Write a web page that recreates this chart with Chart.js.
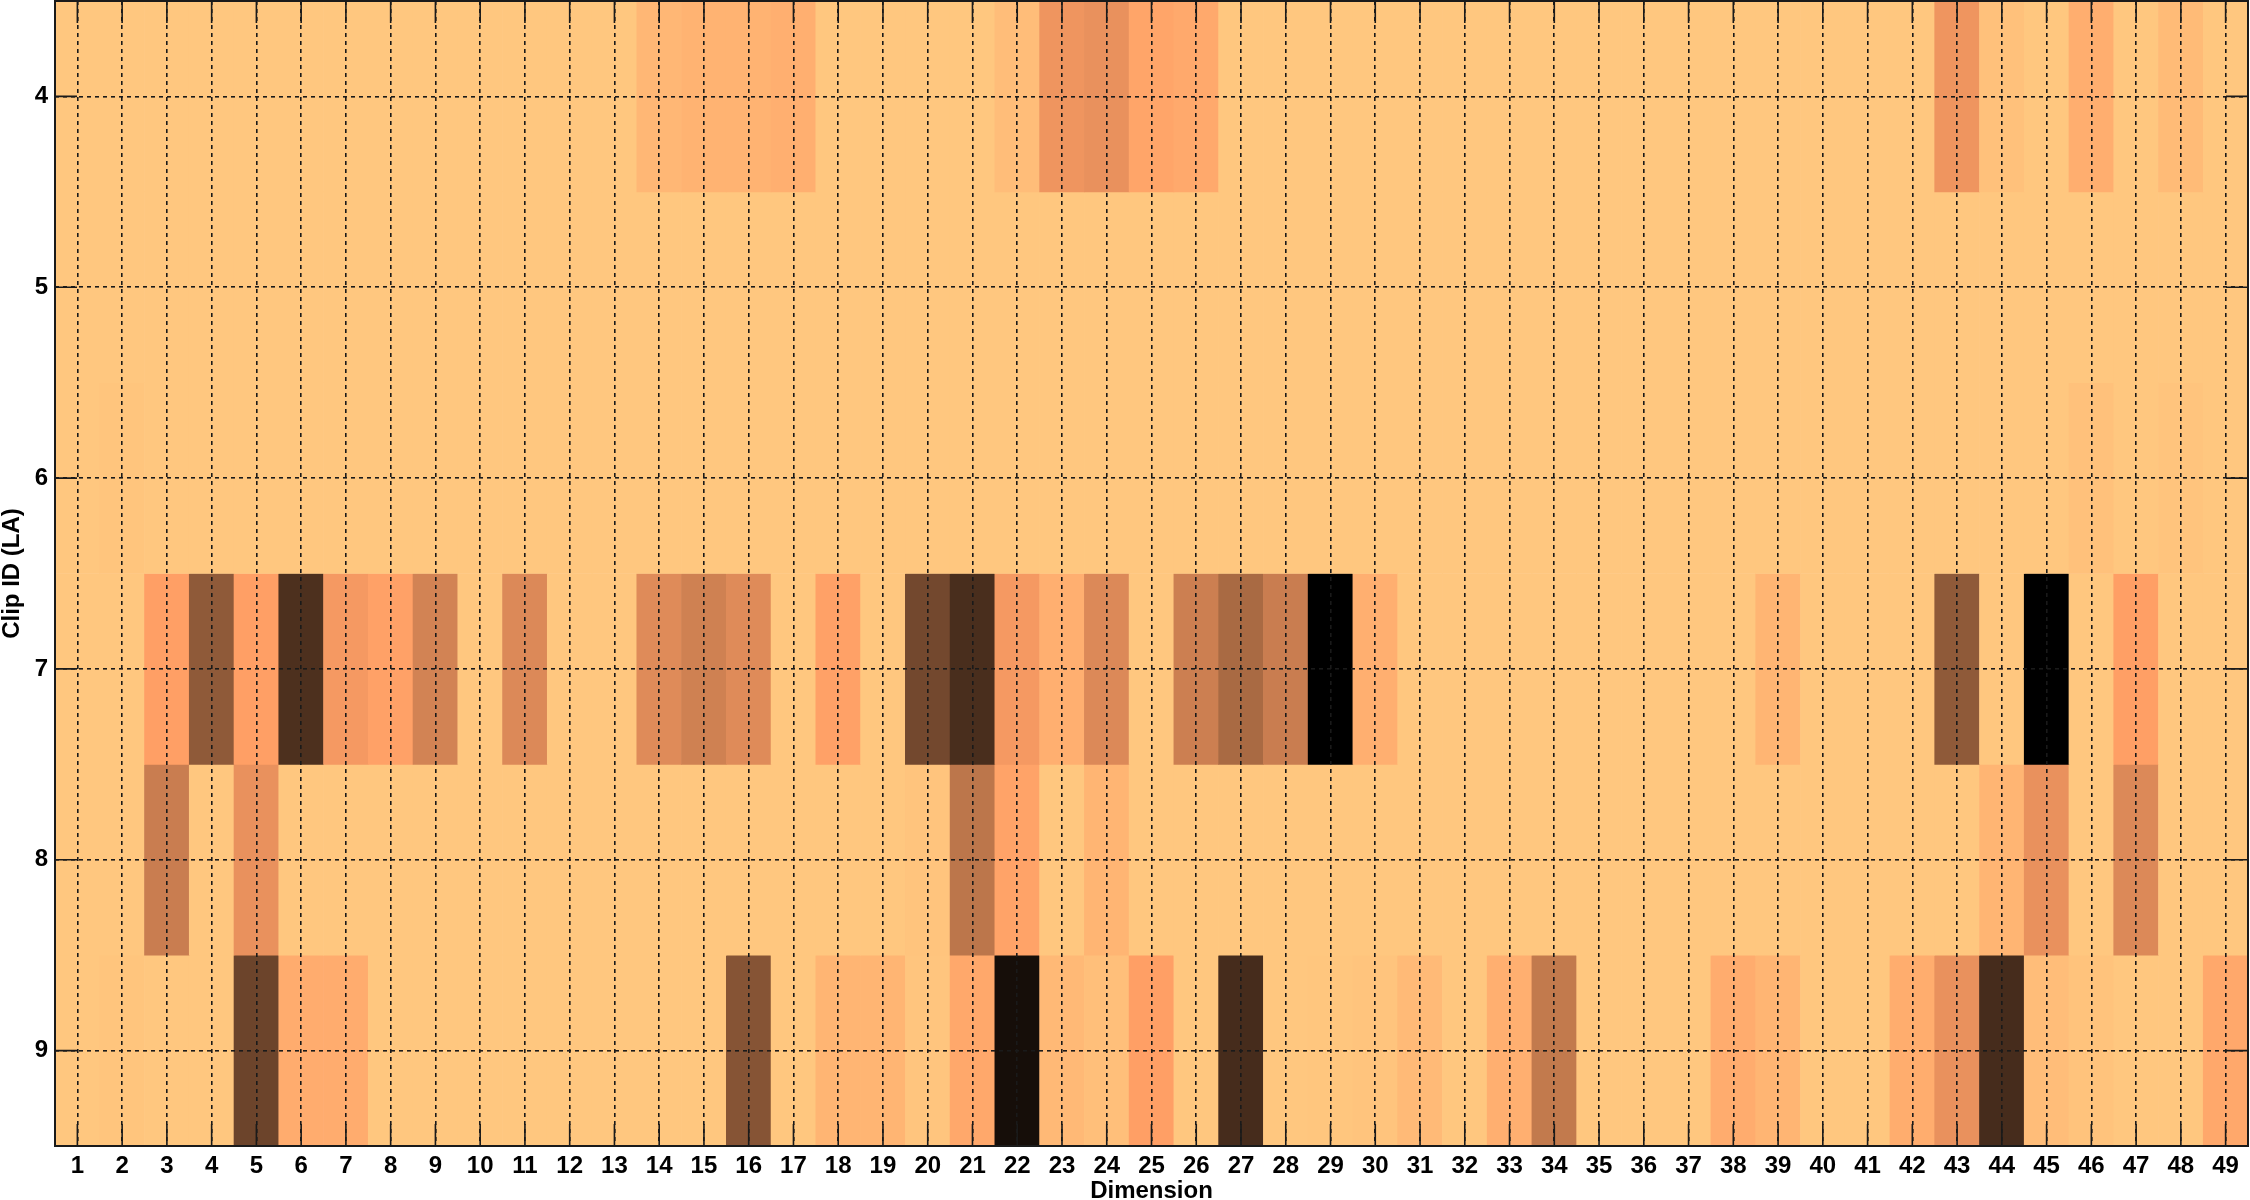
<!DOCTYPE html>
<html>
<head>
<meta charset="utf-8">
<script src="https://cdn.jsdelivr.net/npm/chart.js@4.4.1/dist/chart.umd.min.js"></script>
<style>
  html, body { margin: 0; padding: 0; background: #fff; }
  #wrap { width: 2250px; height: 1200px; position: relative; }
</style>
</head>
<body>
<div id="wrap"><canvas id="heat"></canvas></div>
<script>
'use strict';

/* ── Data ─────────────────────────────────────────────────────────────── */
const dimensions = ['1','2','3','4','5','6','7','8','9','10','11','12','13','14','15','16','17',
  '18','19','20','21','22','23','24','25','26','27','28','29','30','31','32','33','34','35',
  '36','37','38','39','40','41','42','43','44','45','46','47','48','49'];
const clipIds = [4, 5, 6, 7, 8, 9];

// intensity per dimension, 0 = lightest, 1 = black
const clip4 = [0,0,0,0,0,0,0,0,0,0, 0,0,0,0.08,0.10,0.10,0.12,0,0,0,
  0,0.05,0.25,0.27,0.17,0.15,0,0,0,0, 0,0,0,0,0,0,0,0,0,0,
  0,0,0.25,0.03,0,0.125,0,0.06,0];
const clip5 = [0,0,0,0,0,0,0,0,0,0, 0,0,0,0,0,0,0,0,0,0,
  0,0,0,0,0,0,0,0,0,0, 0,0,0,0,0,0,0,0,0,0,
  0,0,0,0,0,0,0,0,0];
const clip6 = [0,0.012,0,0,0,0,0,0,0,0, 0,0,0,0,0,0,0,0,0,0,
  0,0,0,0,0,0,0,0,0,0, 0,0,0,0,0,0,0,0,0,0,
  0,0,0,0,0,0.03,0,0.015,0];
const clip7 = [0,0,0.20,0.55,0.20,0.76,0.23,0.19,0.34,0, 0.31,0,0,0.30,0.35,0.30,0,0.19,0,0.64,
  0.77,0.23,0.12,0.31,0,0.36,0.47,0.37,1.0,0.12, 0,0,0,0,0,0,0,0,0.09,0,
  0,0,0.55,0,1.0,0,0.20,0,0];
const clip8 = [0,0,0.37,0,0.27,0,0,0,0,0, 0,0,0,0,0,0,0,0,0,0.015,
  0.41,0.18,0,0.09,0,0,0,0,0,0, 0,0,0,0,0,0,0,0,0,0,
  0,0,0,0.09,0.27,0,0.31,0,0];
const clip9 = [0,0.012,0,0,0.66,0.135,0.135,0,0,0, 0,0,0,0,0,0.58,0,0.09,0.09,0.01,
  0.155,0.93,0.07,0.04,0.20,0,0.78,0,0.008,0.015, 0.065,0,0.12,0.39,0,0,0,0.135,0.09,0,
  0,0.13,0.27,0.78,0.05,0.02,0,0,0.155];

const yTicks = [4, 5, 6, 7, 8, 9];

/* ── Helpers ──────────────────────────────────────────────────────────── */
// reversed copper colormap: 0 -> light peach, 1 -> black
function copperRev(v) {
  const t = 1 - v;
  const r = Math.min(1, 1.25 * t), g = 0.7812 * t, b = 0.4975 * t;
  return `rgb(${Math.round(r * 255)},${Math.round(g * 255)},${Math.round(b * 255)})`;
}

const FONT = { family: '"Liberation Sans", Arial, sans-serif', size: 24, weight: 'bold' };
const INK = '#1a1a1a';
const TICK_LEN = 22;

// axes box + inward tick marks like the original figure
const boxTicks = {
  id: 'boxTicks',
  afterDraw(chart) {
    const { ctx, chartArea: a, scales } = chart;
    ctx.save();
    ctx.strokeStyle = INK;
    ctx.lineWidth = 1.6;
    ctx.setLineDash([]);
    ctx.beginPath();
    scales.x.ticks.forEach((t, i) => {
      const px = scales.x.getPixelForTick(i);
      ctx.moveTo(px, a.top); ctx.lineTo(px, a.top + TICK_LEN);
      ctx.moveTo(px, a.bottom); ctx.lineTo(px, a.bottom - TICK_LEN);
    });
    scales.y.ticks.forEach((t, i) => {
      const py = scales.y.getPixelForTick(i);
      ctx.moveTo(a.left, py); ctx.lineTo(a.left + TICK_LEN, py);
      ctx.moveTo(a.right, py); ctx.lineTo(a.right - TICK_LEN, py);
    });
    ctx.stroke();
    ctx.lineWidth = 2;
    ctx.strokeRect(a.left, a.top, a.right - a.left, a.bottom - a.top);
    ctx.restore();
  }
};

const noPad = s => { s.paddingTop = 0; s.paddingBottom = 0; s.paddingLeft = 0; s.paddingRight = 0; };

/* ── Chart ────────────────────────────────────────────────────────────── */
const rows = [clip4, clip5, clip6, clip7, clip8, clip9];
const datasets = clipIds.map((id, i) => ({
  label: 'Clip ' + id,
  data: rows[i].map(() => [id - 0.5, id + 0.5]),
  backgroundColor: rows[i].map(copperRev),
  borderWidth: 0,
  borderSkipped: false,
  barPercentage: 1,
  categoryPercentage: 1,
  grouped: false
}));

new Chart(document.getElementById('heat'), {
  type: 'bar',
  data: { labels: dimensions, datasets },
  options: {
    responsive: true,
    maintainAspectRatio: false,
    animation: false,
    layout: { padding: { top: 1, right: 2, left: 0, bottom: 0 } },
    plugins: { legend: { display: false }, tooltip: { enabled: false } },
    scales: {
      x: {
        type: 'category',
        offset: true,
        z: 1,
        grid: { offset: false, drawTicks: false, color: INK, lineWidth: 1.6, z: 1 },
        border: { display: false, dash: [4, 4] },
        ticks: { autoSkip: false, maxRotation: 0, minRotation: 0, padding: 6, color: '#000', font: FONT },
        title: { display: true, text: 'Dimension', color: '#000', font: { ...FONT, lineHeight: 1 }, padding: { top: 0, bottom: -3 } },
        afterFit: s => { s.height = 54; noPad(s); }
      },
      y: {
        type: 'linear',
        min: 3.5,
        max: 9.5,
        reverse: true,
        z: 1,
        afterBuildTicks: s => { s.ticks = yTicks.map(v => ({ value: v })); },
        grid: { drawTicks: false, color: INK, lineWidth: 1.6, z: 1 },
        border: { display: false, dash: [4, 4] },
        ticks: { padding: 7, color: '#000', font: FONT },
        title: { display: true, text: 'Clip ID (LA)', color: '#000', font: { ...FONT, lineHeight: 1 }, padding: 0 },
        afterFit: s => { s.width = 55; noPad(s); }
      }
    }
  },
  plugins: [boxTicks]
});
</script>
</body>
</html>
